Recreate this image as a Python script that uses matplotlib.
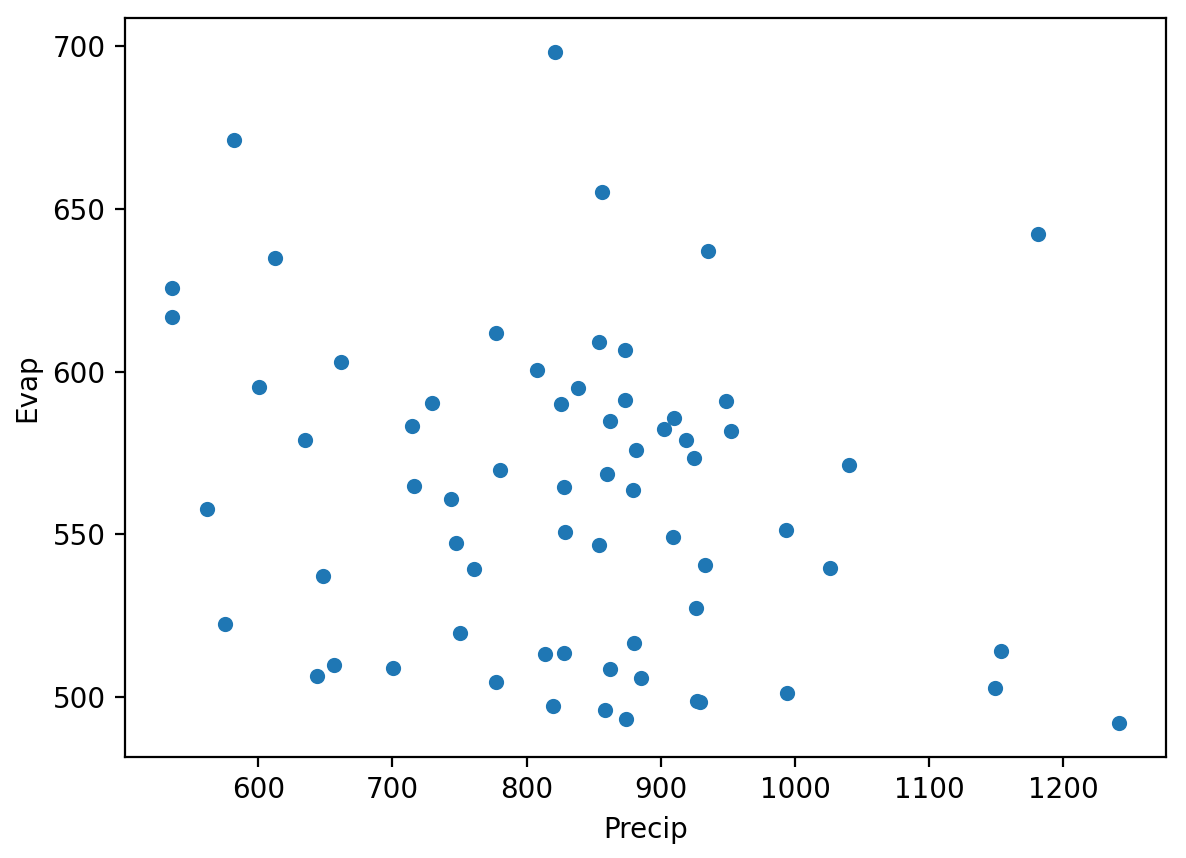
import numpy as np
import matplotlib
matplotlib.use('Agg')
from matplotlib import pyplot as plt

precip = [821.1, 582.1, 856.1, 1180.8, 935.1, 612.7, 536.0, 536.0, 777.2, 853.9,
          873.3, 661.8, 807.7, 600.7, 838.3, 873.3, 948.5, 729.6, 825.6, 909.8,
          862.1, 714.7, 902.3, 952.2, 918.7, 635.0, 881.5, 924.6, 1040.1, 780.2,
          859.9, 716.2, 827.8, 879.2, 743.7, 562.0, 993.1, 828.6, 909.0, 747.4,
          853.9, 932.8, 1025.9, 760.8, 648.4, 926.1, 575.4, 750.4, 880.0, 1153.2,
          827.8, 813.7, 656.6, 700.5, 862.1, 644.0, 885.2, 777.2, 1148.8, 993.9,
          926.9, 929.1, 819.7, 858.4, 874.0, 1241.1]
evap = [698.2, 671.2, 655.2, 642.3, 637.1, 635.0, 625.5, 616.6, 611.7, 609.2,
        606.7, 602.8, 600.6, 595.4, 594.8, 591.4, 591.1, 590.2, 589.9, 585.6,
        584.7, 583.4, 582.5, 581.6, 579.1, 579.1, 575.8, 573.6, 571.2, 569.9,
        568.7, 565.0, 564.7, 563.5, 561.0, 557.7, 551.5, 550.6, 549.1, 547.5,
        546.9, 540.5, 539.6, 539.3, 537.4, 527.3, 522.4, 519.9, 516.6, 514.1,
        513.5, 513.2, 509.8, 508.9, 508.6, 506.7, 505.8, 504.6, 502.8, 501.2,
        498.8, 498.5, 497.2, 496.0, 493.3, 492.0]

fig = plt.figure(figsize=(5.93, 4.29), dpi=200)
ax = fig.add_subplot(1, 1, 1)
ax.scatter(precip, evap, s=20, color='#1f77b4')
ax.set_xlabel('Precip')
ax.set_ylabel('Evap')
fig.subplots_adjust(left=0.1054, right=0.9831, top=0.979, bottom=0.1177)
fig.savefig('out.png', dpi=200)
